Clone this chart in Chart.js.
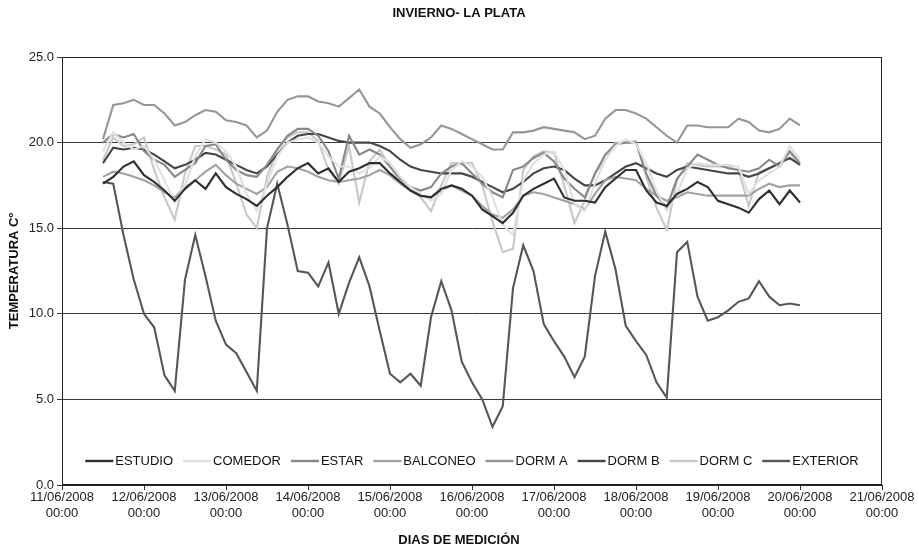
<!DOCTYPE html>
<html><head><meta charset="utf-8">
<script src="https://cdn.jsdelivr.net/npm/chart.js@4.4.0/dist/chart.umd.min.js"></script>
<style>html,body{margin:0;padding:0;background:#fff}</style>
</head><body>
<canvas id="c" width="918" height="548"></canvas>
<script>
// Time of each reading, hours since 11/06/2008 00:00
const hours = [12,15,18,21,24,27,30,33,36,39,42,45,48,51,54,57,60,63,66,69,72,75,78,81,84,87,90,93,96,99,102,105,108,111,114,117,120,123,126,129,132,135,138,141,144,147,150,153,156,159,162,165,168,171,174,177,180,183,186,189,192,195,198,201,204,207,210,213,216];

const dayLabels = [
  ["11/06/2008","00:00"],["12/06/2008","00:00"],["13/06/2008","00:00"],["14/06/2008","00:00"],
  ["15/06/2008","00:00"],["16/06/2008","00:00"],["17/06/2008","00:00"],["18/06/2008","00:00"],
  ["19/06/2008","00:00"],["20/06/2008","00:00"],["21/06/2008","00:00"]
];

const chartTitle = 'INVIERNO- LA PLATA';
const xTitle = 'DIAS DE MEDICIÓN';
const yTitle = 'TEMPERATURA Cº';

const estudio = [17.6,18.0,18.6,18.9,18.1,17.7,17.2,16.6,17.3,17.8,
  17.3,18.2,17.4,17.0,16.7,16.3,16.9,17.4,18.0,18.5,
  18.8,18.2,18.5,17.7,18.3,18.5,18.8,18.8,18.2,17.7,
  17.2,16.9,16.8,17.3,17.5,17.3,16.9,16.1,15.7,15.3,
  15.9,16.9,17.3,17.6,17.9,16.8,16.6,16.6,16.5,17.4,
  17.9,18.4,18.4,17.2,16.5,16.3,17.0,17.3,17.7,17.4,
  16.6,16.4,16.2,15.9,16.7,17.2,16.4,17.2,16.5];

const comedor = [19.5,20.6,20.0,19.6,19.8,19.0,17.8,16.5,17.5,19.2,
  20.2,20.0,19.5,18.6,17.0,16.0,17.6,19.2,20.0,20.2,
  20.3,20.0,19.2,18.6,18.6,18.2,18.5,19.2,18.8,18.0,
  17.4,17.0,16.6,17.0,18.4,18.9,18.6,18.0,16.8,15.2,
  14.6,17.8,18.8,19.3,19.5,18.4,16.4,16.0,17.6,19.0,
  19.8,20.2,19.9,18.8,17.2,16.0,17.0,18.5,18.8,18.7,
  18.7,18.7,18.6,17.0,17.8,18.2,18.6,19.8,19.0];

const estar = [20.0,20.5,20.3,20.5,19.5,19.0,18.7,18.0,18.4,18.8,
  19.8,19.9,19.0,18.4,18.1,18.0,18.7,19.6,20.4,20.8,
  20.8,20.4,19.5,17.9,20.4,19.3,19.6,19.3,18.6,17.9,
  17.4,17.2,17.4,18.2,18.6,18.8,18.2,17.6,17.1,16.8,
  18.4,18.6,19.1,19.4,18.9,17.9,17.3,16.8,18.2,19.3,
  19.9,20.0,20.0,18.2,16.9,16.2,17.9,18.6,19.3,19.0,
  18.7,18.5,18.4,18.3,18.5,19.0,18.6,19.5,18.8];

const balconeo = [18.0,18.3,18.2,18.0,17.8,17.5,17.1,16.8,17.4,17.8,
  18.3,18.7,18.1,17.6,17.3,17.0,17.4,18.3,18.6,18.5,
  18.3,18.0,17.8,17.7,17.8,17.9,18.1,18.4,18.1,17.6,
  17.2,16.9,16.8,17.2,17.5,17.2,16.9,16.3,15.8,15.6,
  16.1,16.9,17.1,17.0,16.8,16.6,16.4,16.1,17.0,17.8,
  18.0,17.9,17.8,17.3,16.9,16.6,16.8,17.1,17.0,16.9,
  16.9,16.9,16.9,16.9,17.3,17.6,17.4,17.5,17.5];

const dormA = [20.2,22.2,22.3,22.5,22.2,22.2,21.7,21.0,21.2,21.6,
  21.9,21.8,21.3,21.2,21.0,20.3,20.7,21.8,22.5,22.7,
  22.7,22.4,22.3,22.1,22.6,23.1,22.1,21.7,20.9,20.2,
  19.7,19.9,20.3,21.0,20.8,20.5,20.2,19.9,19.6,19.6,
  20.6,20.6,20.7,20.9,20.8,20.7,20.6,20.2,20.4,21.4,
  21.9,21.9,21.7,21.4,20.9,20.4,20.0,21.0,21.0,20.9,
  20.9,20.9,21.4,21.2,20.7,20.6,20.8,21.4,21.0];

const dormB = [18.8,19.7,19.6,19.7,19.6,19.3,18.9,18.5,18.7,19.0,
  19.4,19.3,19.0,18.7,18.4,18.2,18.6,19.3,20.0,20.4,
  20.5,20.5,20.3,20.1,20.0,20.0,20.0,19.8,19.5,19.0,
  18.6,18.4,18.3,18.2,18.2,18.2,18.0,17.7,17.4,17.1,
  17.3,17.7,18.2,18.5,18.6,18.4,17.9,17.5,17.5,17.8,
  18.2,18.6,18.8,18.5,18.2,18.0,18.4,18.6,18.5,18.4,
  18.3,18.2,18.2,18.0,18.2,18.5,18.8,19.1,18.7];

const dormC = [19.0,20.3,19.8,19.9,20.3,18.4,16.8,15.5,18.2,19.8,
  19.8,19.6,19.3,17.6,15.8,15.0,18.0,19.6,20.3,20.6,
  20.6,20.1,18.4,17.6,19.8,16.5,18.9,19.6,18.6,17.7,
  17.2,16.8,16.0,17.5,18.8,18.8,18.8,17.5,15.4,13.6,
  13.8,18.4,19.2,19.5,19.4,17.5,15.3,16.6,18.2,19.0,
  20.0,20.0,20.1,18.0,16.2,14.9,17.8,18.8,18.7,18.6,
  18.6,18.6,18.4,16.3,18.3,18.5,18.8,19.4,18.7];

const exterior = [17.7,17.6,14.6,12.0,10.0,9.2,6.4,5.5,12.0,14.6,
  12.2,9.6,8.2,7.7,6.6,5.5,15.0,17.6,15.2,12.5,
  12.4,11.6,13.0,10.0,11.8,13.3,11.6,9.0,6.5,6.0,
  6.5,5.8,9.8,11.9,10.2,7.2,6.0,5.0,3.4,4.6,
  11.5,14.0,12.5,9.4,8.4,7.5,6.3,7.5,12.2,14.8,
  12.6,9.3,8.4,7.6,6.0,5.1,13.6,14.2,11.0,9.6,
  9.8,10.2,10.7,10.9,11.9,11.0,10.5,10.6,10.5];

const seriesNames = ["ESTUDIO","COMEDOR","ESTAR","BALCONEO","DORM A","DORM B","DORM C","EXTERIOR"];
const seriesValues = [estudio, comedor, estar, balconeo, dormA, dormB, dormC, exterior];
const seriesColors = ["#2e2e2e","#e0e0e0","#888888","#a2a2a2","#969696","#454545","#c8c8c8","#575757"];

const FONT = '"Liberation Sans", Arial, Helvetica, sans-serif';
Chart.defaults.font.family = FONT;
Chart.defaults.font.size = 13;
Chart.defaults.color = '#222';

const frame = {
  id: 'frame',
  beforeDatasetsDraw(chart) {
    const {ctx, chartArea: a} = chart;
    ctx.save();
    ctx.strokeStyle = '#222';
    ctx.lineWidth = 1;
    ctx.strokeRect(Math.round(a.left) + 0.5, Math.round(a.top) + 0.5,
                   Math.round(a.right - a.left) - 1, Math.round(a.bottom - a.top) - 1);
    ctx.restore();
  }
};

const titles = {
  id: 'titles',
  afterDraw(chart) {
    const {ctx, chartArea: a} = chart;
    ctx.save();
    ctx.fillStyle = '#111';
    ctx.textAlign = 'center';
    ctx.textBaseline = 'middle';
    ctx.font = 'bold 13px ' + FONT;
    ctx.fillText(chartTitle, chart.width / 2, 13);
    ctx.fillText(xTitle, chart.width / 2, 540);
    ctx.translate(14, (a.top + a.bottom) / 2);
    ctx.rotate(-Math.PI / 2);
    ctx.fillText(yTitle, 0, 0);
    ctx.restore();
  }
};

const inlineLegend = {
  id: 'inlineLegend',
  afterDatasetsDraw(chart) {
    const {ctx, chartArea: a} = chart;
    ctx.save();
    ctx.font = '13px ' + FONT;
    const lineW = 28, gapT = 2, gapI = 10;
    const items = chart.data.datasets.map(d => ({label: d.label, color: d.borderColor, w: ctx.measureText(d.label).width}));
    const total = items.reduce((s, it) => s + lineW + gapT + it.w, 0) + gapI * (items.length - 1);
    let x = (a.left + a.right) / 2 - total / 2;
    const y = 461;
    items.forEach(it => {
      ctx.strokeStyle = it.color;
      ctx.lineWidth = 2.4;
      ctx.beginPath(); ctx.moveTo(x, y); ctx.lineTo(x + lineW, y); ctx.stroke();
      ctx.fillStyle = '#111';
      ctx.textBaseline = 'middle';
      ctx.textAlign = 'left';
      ctx.fillText(it.label, x + lineW + gapT, y + 0.5);
      x += lineW + gapT + it.w + gapI;
    });
    ctx.restore();
  }
};

new Chart(document.getElementById('c'), {
  type: 'line',
  data: {
    datasets: seriesNames.map((name, k) => ({
      label: name,
      data: seriesValues[k].map((v, i) => ({x: hours[i], y: v})),
      borderColor: seriesColors[k],
      backgroundColor: seriesColors[k],
      borderWidth: 2.1,
      pointRadius: 0,
      tension: 0,
      fill: false
    }))
  },
  options: {
    responsive: false,
    animation: false,
    devicePixelRatio: 1,
    layout: {padding: {top: 57, right: 36, bottom: 0, left: 0}},
    plugins: {
      legend: {display: false},
      tooltip: {enabled: false},
      title: {display: false}
    },
    scales: {
      x: {
        type: 'linear',
        min: 0, max: 240,
        afterFit: s => { s.height = 63; },
        ticks: {
          stepSize: 24, autoSkip: false, maxRotation: 0, minRotation: 0, padding: 0,
          color: '#222', font: {size: 13},
          callback: v => dayLabels[Math.round(v / 24)]
        },
        grid: {drawOnChartArea: false, drawTicks: true, tickLength: 5, color: '#333'},
        border: {display: true, color: '#222', width: 1},
        title: {display: false}
      },
      y: {
        min: 0, max: 25,
        afterFit: s => { s.width = 62; },
        ticks: {stepSize: 5, padding: 3, color: '#222', font: {size: 13},
                callback: v => v.toFixed(1)},
        grid: {drawTicks: true, tickLength: 5, color: '#3a3a3a'},
        border: {display: true, color: '#222', width: 1},
        title: {display: false}
      }
    }
  },
  plugins: [frame, titles, inlineLegend]
});
</script>
</body></html>
